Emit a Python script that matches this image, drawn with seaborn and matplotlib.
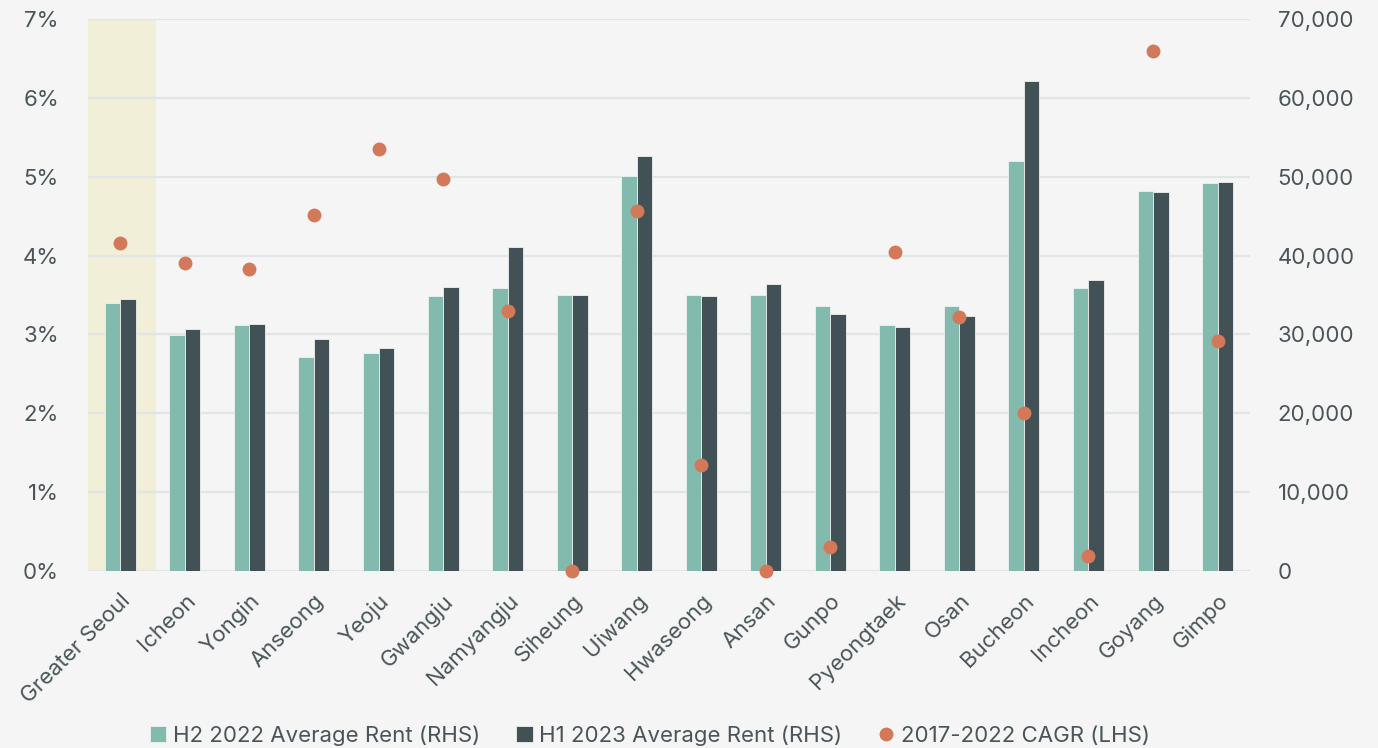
import matplotlib

matplotlib.use("Agg")

import matplotlib.pyplot as plt
import pandas as pd
import seaborn as sns
from matplotlib.ticker import FuncFormatter

# ---- data -------------------------------------------------------------
cities = [
    "Greater Seoul", "Icheon", "Yongin", "Anseong", "Yeoju", "Gwangju",
    "Namyangju", "Siheung", "Uiwang", "Hwaseong", "Ansan", "Gunpo",
    "Pyeongtaek", "Osan", "Bucheon", "Incheon", "Goyang", "Gimpo",
]
rent_h2_2022 = [
    33950, 29930, 31200, 27100, 27690, 34870, 35930, 35040, 50130,
    35040, 35040, 33570, 31200, 33640, 51990, 35890, 48190, 49170,
]
rent_h1_2023 = [
    34450, 30730, 31370, 29420, 28320, 35970, 41050, 35040, 52630,
    34870, 36390, 32590, 30940, 32340, 62180, 36900, 48020, 49290,
]
cagr_2017_2022 = [
    4.16, 3.90, 3.83, 4.52, 5.35, 4.97, 3.30, 0.00, 4.57,
    1.34, 0.00, 0.30, 4.04, 3.22, 2.00, 0.19, 6.59, 2.92,
]
series_labels = [
    "H2 2022 Average Rent (RHS)",
    "H1 2023 Average Rent (RHS)",
    "2017-2022 CAGR (LHS)",
]
highlight_city = "Greater Seoul"

# ---- styling ----------------------------------------------------------
BG = "#f5f5f5"
TEXT = "#4a5559"
GRID = "#e1e5e5"
TEAL = "#82baad"
DARK = "#425155"
ORANGE = "#d4785a"
BAND = "#f1efd8"
FS = 16

sns.set_theme(style="white")
plt.rcParams.update(
    {
        "font.family": ["Inter", "DejaVu Sans"],
        "font.size": FS,
        "text.color": TEXT,
        "axes.labelcolor": TEXT,
        "xtick.color": TEXT,
        "ytick.color": TEXT,
        "figure.facecolor": BG,
        "axes.facecolor": BG,
    }
)

rent_frame = pd.DataFrame(
    {
        "city": cities * 2,
        "rent": rent_h2_2022 + rent_h1_2023,
        "series": [series_labels[0]] * len(cities) + [series_labels[1]] * len(cities),
    }
)
cagr_frame = pd.DataFrame(
    {"city": cities, "cagr": cagr_2017_2022, "series": series_labels[2]}
)

fig = plt.figure(figsize=(13.78, 7.48), dpi=100)
ax = fig.add_axes([0.0639, 0.2366, 0.8431, 0.738])
ax2 = ax.twinx()

# bars on the right-hand axis
sns.barplot(
    data=rent_frame,
    x="city",
    y="rent",
    hue="series",
    palette=[TEAL, DARK],
    saturation=1,
    width=0.48,
    gap=0,
    edgecolor="#eef1f0",
    linewidth=0.6,
    ax=ax2,
    zorder=2,
)

# dots on the left-hand axis
sns.stripplot(
    data=cagr_frame,
    x="city",
    y="cagr",
    hue="series",
    palette=[ORANGE],
    jitter=False,
    size=10,
    linewidth=0,
    ax=ax,
    zorder=5,
)
for coll in ax.collections:
    coll.set_clip_on(False)

ax.set_zorder(ax2.get_zorder() + 1)
ax.patch.set_visible(False)
ax2.set_facecolor(BG)

hi = cities.index(highlight_city)
ax2.axvspan(hi - 0.56, hi + 0.56, ymin=0, ymax=1, color=BAND, zorder=0, lw=0)

ax.set_ylim(0, 7)
ax2.set_ylim(0, 70000)
ax.set_xlim(-0.5, len(cities) - 0.5)
ax.set_yticks(range(0, 8))
ax2.set_yticks(range(0, 70001, 10000))
ax.yaxis.set_major_formatter(FuncFormatter(lambda v, _: f"{v:.0f}%"))
ax2.yaxis.set_major_formatter(FuncFormatter(lambda v, _: f"{v:,.0f}"))

ax2.set_axisbelow(True)
ax2.yaxis.grid(True, color=GRID, linewidth=1.6, zorder=1)
ax2.xaxis.grid(False)
ax.grid(False)

for a in (ax, ax2):
    for spine in a.spines.values():
        spine.set_visible(False)
    a.set_xlabel("")
    a.set_ylabel("")
    a.tick_params(length=0)

ax.tick_params(axis="y", pad=21, labelsize=FS)
ax2.tick_params(axis="y", pad=20, labelsize=FS)
ax.tick_params(axis="x", pad=14, labelsize=FS)
plt.setp(ax.get_xticklabels(), rotation=45, ha="right", rotation_mode="anchor")
ax2.tick_params(axis="x", labelbottom=False)

# combined legend
h1, l1 = ax2.get_legend_handles_labels()
h2, l2 = ax.get_legend_handles_labels()
ax.get_legend().remove()
ax2.get_legend().remove()
fig.legend(
    h1 + h2,
    l1 + l2,
    loc="lower center",
    bbox_to_anchor=(0.4717, -0.024),
    ncol=3,
    frameon=False,
    fontsize=FS,
    handlelength=0.75,
    handleheight=0.75,
    handletextpad=0.3,
    columnspacing=1.6,
)

fig.savefig("out.png", dpi=100, facecolor=BG)
